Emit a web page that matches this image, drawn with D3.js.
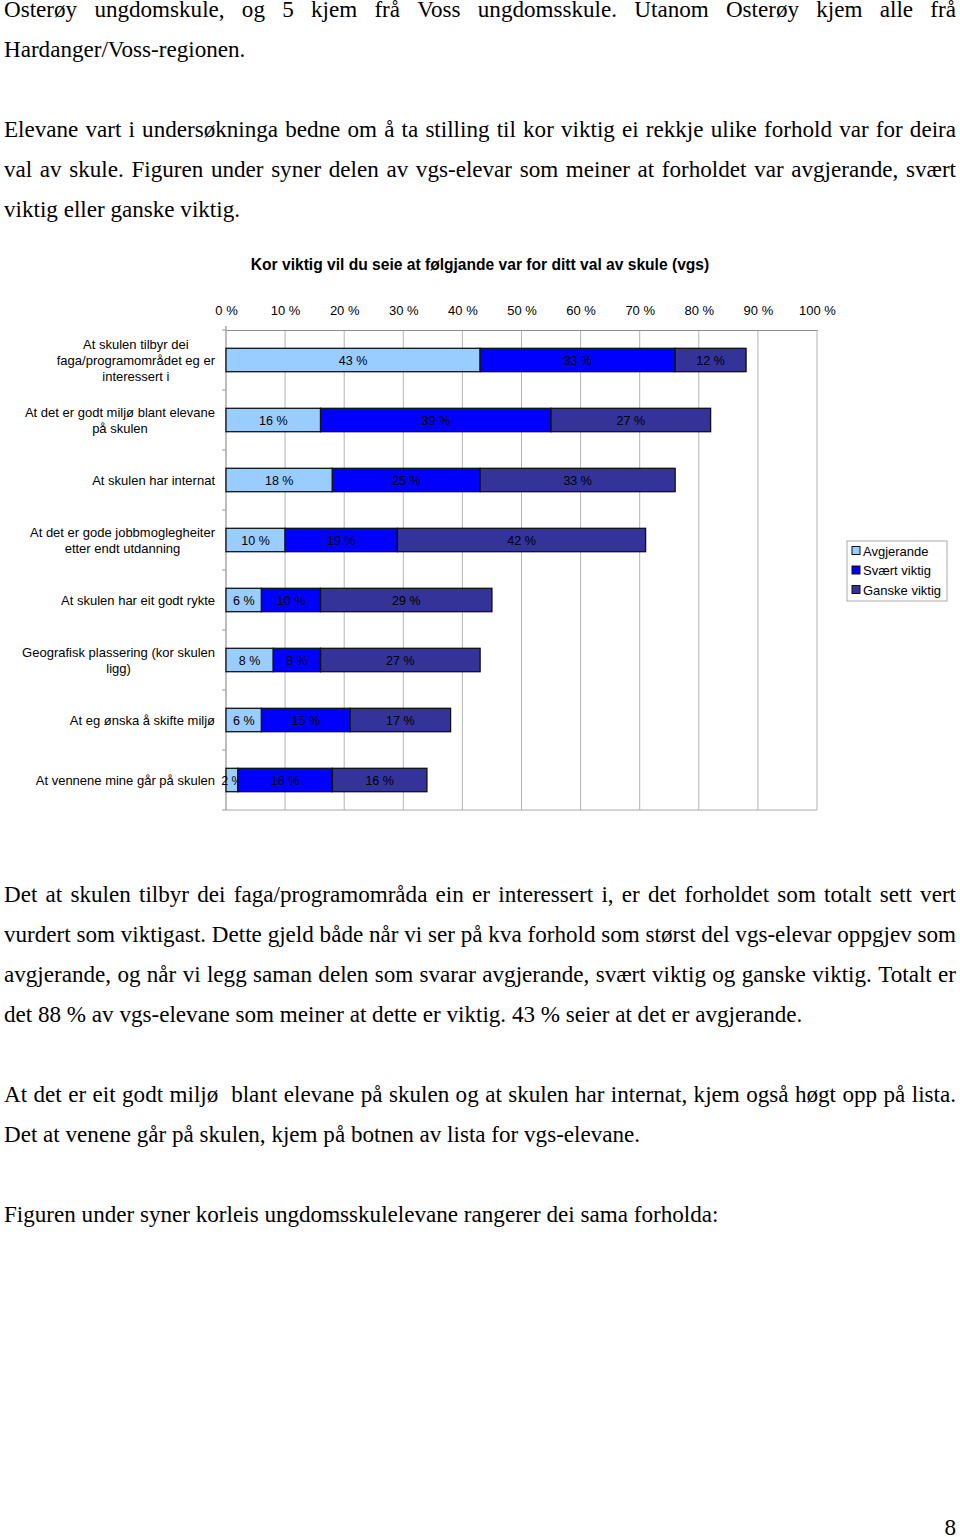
<!DOCTYPE html>
<html>
<head>
<meta charset="utf-8">
<script src="https://cdn.jsdelivr.net/npm/d3@7"></script>
<style>
  html, body { margin: 0; padding: 0; background: #fff; }
  svg { display: block; }
</style>
</head>
<body>
<script>
// ---------- DATA ----------
const categories = [
  "At skulen tilbyr dei\nfaga/programområdet eg er\ninteressert i",
  "At det er godt miljø blant elevane\npå skulen",
  "At skulen har internat",
  "At det er gode jobbmoglegheiter\netter endt utdanning",
  "At skulen har eit godt rykte",
  "Geografisk plassering (kor skulen\nligg)",
  "At eg ønska å skifte miljø",
  "At vennene mine går på skulen"
];
const avgjerande   = [43, 16, 18, 10, 6, 8, 6, 2];
const svaertViktig = [33, 39, 25, 19, 10, 8, 15, 16];
const ganskeViktig = [12, 27, 33, 42, 29, 27, 17, 16];
const seriesNames  = ["Avgjerande", "Svært viktig", "Ganske viktig"];
const tickValues   = [0, 10, 20, 30, 40, 50, 60, 70, 80, 90, 100];
const chartTitle   = "Kor viktig vil du seie at følgjande var for ditt val av skule (vgs)";

const textBefore = [
  ["Osterøy ungdomskule, og 5 kjem frå Voss ungdomsskule. Utanom Osterøy kjem alle frå", true],
  ["Hardanger/Voss-regionen.", false],
  null,
  ["Elevane vart i undersøkninga bedne om å ta stilling til kor viktig ei rekkje ulike forhold var for deira", true],
  ["val av skule. Figuren under syner delen av vgs-elevar som meiner at forholdet var avgjerande, svært", true],
  ["viktig eller ganske viktig.", false]
];
const textAfter = [
  ["Det at skulen tilbyr dei faga/programområda ein er interessert i, er det forholdet som totalt sett vert", true],
  ["vurdert som viktigast. Dette gjeld både når vi ser på kva forhold som størst del vgs-elevar oppgjev som", true],
  ["avgjerande, og når vi legg saman delen som svarar avgjerande, svært viktig og ganske viktig. Totalt er", true],
  ["det 88 % av vgs-elevane som meiner at dette er viktig. 43 % seier at det er avgjerande.", false],
  null,
  ["At det er eit godt miljø  blant elevane på skulen og at skulen har internat, kjem også høgt opp på lista.", true],
  ["Det at venene går på skulen, kjem på botnen av lista for vgs-elevane.", false],
  null,
  ["Figuren under syner korleis ungdomsskulelevane rangerer dei sama forholda:", false]
];
const pageNumber = "8";

// ---------- SETUP ----------
const W = 960, H = 1537;
const svg = d3.select("body").append("svg").attr("width", W).attr("height", H);
svg.append("rect").attr("width", W).attr("height", H).attr("fill", "#fff");

const serif = "'Liberation Serif', 'Times New Roman', serif";
const sans = "'Liberation Sans', Arial, sans-serif";
const textLeft = 4, textRight = 956, serifSize = 23.1, lineStep = 40;

function drawParagraphLines(lines, firstBaseline) {
  lines.forEach((ln, i) => {
    if (!ln) return;
    const y = firstBaseline + i * lineStep;
    const [str, justify] = ln;
    if (!justify) {
      svg.append("text").attr("x", textLeft).attr("y", y)
        .attr("font-family", serif).attr("font-size", serifSize).attr("fill", "#000")
        .text(str);
      return;
    }
    const words = str.split(" ");
    const g = svg.append("g");
    const nodes = words.map(w => g.append("text").attr("y", y)
      .attr("font-family", serif).attr("font-size", serifSize).attr("fill", "#000")
      .text(w));
    const widths = nodes.map(n => n.node().getComputedTextLength());
    const total = d3.sum(widths);
    const gap = (textRight - textLeft - total) / (words.length - 1);
    let x = textLeft;
    nodes.forEach((n, k) => { n.attr("x", x); x += widths[k] + gap; });
  });
}

drawParagraphLines(textBefore, 17);
drawParagraphLines(textAfter, 902);

svg.append("text").attr("x", textRight).attr("y", 1535).attr("text-anchor", "end")
  .attr("font-family", serif).attr("font-size", serifSize).text(pageNumber);

// ---------- CHART ----------
const x = d3.scaleLinear().domain([0, 100]).range([226, 817]);
const y = d3.scaleBand().domain(categories).range([330, 810]).paddingInner(0.61).paddingOuter(0.305);
const colors = d3.scaleOrdinal().domain(seriesNames).range(["#99ccff", "#0000ff", "#333399"]);

svg.append("text").attr("x", 480).attr("y", 270).attr("text-anchor", "middle")
  .attr("font-family", sans).attr("font-size", 15.6).attr("font-weight", "bold")
  .text(chartTitle);

// gridlines
svg.append("g").selectAll("line").data(tickValues.slice(1)).join("line")
  .attr("x1", d => x(d)).attr("x2", d => x(d))
  .attr("y1", 330).attr("y2", 810)
  .attr("stroke", "#b4b4b4").attr("stroke-width", 1);

// top axis
const topAxis = svg.append("g").attr("transform", "translate(0,330)")
  .call(d3.axisTop(x).tickValues(tickValues).tickFormat(d => d + " %").tickSize(0).tickPadding(15));
topAxis.select(".domain").attr("stroke", "#8c8c8c");
topAxis.selectAll("text").attr("font-family", sans).attr("font-size", 13).attr("fill", "#000");

// bottom line
svg.append("line").attr("x1", x(0)).attr("x2", x(100)).attr("y1", 810).attr("y2", 810)
  .attr("stroke", "#a8a8a8");

// left axis with category boundaries
svg.append("line").attr("x1", x(0)).attr("x2", x(0)).attr("y1", 326).attr("y2", 810)
  .attr("stroke", "#7a7a7a");
const boundaries = d3.range(categories.length + 1).map(i => 330 + i * y.step());
svg.append("g").selectAll("line").data(boundaries).join("line")
  .attr("x1", x(0) - 4).attr("x2", x(0)).attr("y1", d => d).attr("y2", d => d)
  .attr("stroke", "#999");

// stacked bars
const rows = categories.map((c, i) => ({ cat: c, Avgjerande: avgjerande[i], "Svært viktig": svaertViktig[i], "Ganske viktig": ganskeViktig[i] }));
const stack = d3.stack().keys(seriesNames)(rows);
const layers = svg.append("g").selectAll("g").data(stack).join("g").attr("fill", d => colors(d.key));
layers.selectAll("rect").data(d => d).join("rect")
  .attr("x", d => x(d[0])).attr("width", d => x(d[1]) - x(d[0]))
  .attr("y", d => y(d.data.cat)).attr("height", y.bandwidth())
  .attr("stroke", "#111").attr("stroke-width", 1.3);
layers.selectAll("text").data(d => d).join("text")
  .attr("x", d => (x(d[0]) + x(d[1])) / 2)
  .attr("y", d => y(d.data.cat) + y.bandwidth() / 2 + 4.5)
  .attr("text-anchor", "middle").attr("font-family", sans).attr("font-size", 12.5).attr("fill", "#000")
  .text(d => (d[1] - d[0]) + " %");

// category labels
const labelRight = 215;
categories.forEach(c => {
  const lines = c.split("\n");
  const g = svg.append("g");
  const cy = y(c) + y.bandwidth() / 2;
  const t = g.append("text").attr("font-family", sans).attr("font-size", 13).attr("fill", "#000");
  const spans = lines.map((l, k) => t.append("tspan").attr("y", cy + 4.5 + (k - (lines.length - 1) / 2) * 16).text(l));
  const widths = spans.map(s => s.node().getComputedTextLength());
  const maxW = d3.max(widths);
  const center = labelRight - maxW / 2;
  spans.forEach(s => s.attr("x", center).attr("text-anchor", "middle"));
});

// legend
const lg = svg.append("g").attr("transform", "translate(847,541)");
lg.append("rect").attr("width", 100).attr("height", 60).attr("fill", "#fff").attr("stroke", "#aaa");
seriesNames.forEach((s, i) => {
  const row = lg.append("g").attr("transform", `translate(5,${10 + i * 19.5})`);
  row.append("rect").attr("x", 0).attr("y", -4.5).attr("width", 8).attr("height", 8)
    .attr("fill", colors(s)).attr("stroke", "#111");
  row.append("text").attr("x", 11).attr("y", 4.5).attr("font-family", sans).attr("font-size", 13).text(s);
});
</script>
</body>
</html>
